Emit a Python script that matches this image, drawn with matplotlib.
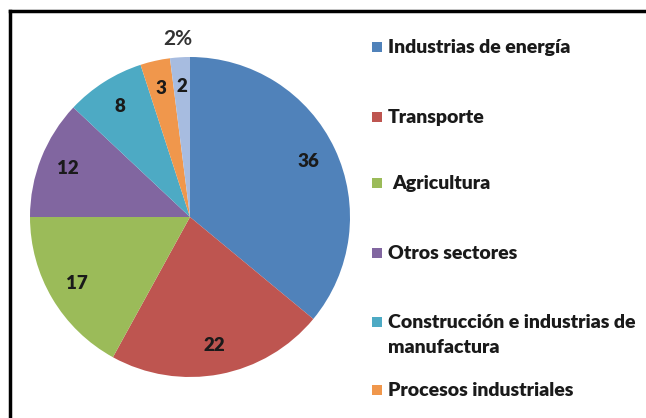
import matplotlib
matplotlib.use("Agg")
import matplotlib.pyplot as plt
from matplotlib.patches import Rectangle

categories = ["Industrias de energía", "Transporte", "Agricultura", "Otros sectores",
              "Construcción e industrias de\nmanufactura", "Procesos industriales", "Residuos"]
values = [36, 22, 17, 12, 8, 3, 2]
colors = ["#5082BA", "#BE5550", "#9BBB59", "#8166A0", "#4DAAC4", "#F0974C", "#A7BCE0"]
legend_y = [47, 117, 183, 253, 322, 390]  # pixel rows of visible legend entries

W, H = 646, 418
fig = plt.figure(figsize=(W / 100, H / 100), dpi=100)
plt.rcParams['font.family'] = ['Lato', 'DejaVu Sans']

# frame (top & left visible)
fig.add_artist(plt.Line2D([10 / W, 1.0], [1 - 11 / H, 1 - 11 / H], color="black", lw=2.5,
                          transform=fig.transFigure))
fig.add_artist(plt.Line2D([10 / W, 10 / W], [0, 1 - 11 / H], color="black", lw=2.5,
                          transform=fig.transFigure))

cx, cy, r = 190, 217, 160
ax = fig.add_axes([(cx - r) / W, (H - cy - r) / H, 2 * r / W, 2 * r / H])
wedges, texts = ax.pie(values, colors=colors, startangle=90, counterclock=False,
                       labels=[str(v) for v in values], labeldistance=0.82,
                       wedgeprops=dict(linewidth=0), radius=1.0)
for t in texts:
    t.set_ha("center")
    t.set_va("center")
    t.set_fontsize(13.5)
    t.set_fontweight("heavy")
    t.set_color("#1a1a1a")
ax.set_xlim(-1, 1)
ax.set_ylim(-1, 1)
ax.set_aspect("equal")
ax.axis("off")

fig.text(178 / W, 1 - 39 / H, "2%", ha="center", va="center", fontsize=15,
         fontweight="bold", color="#333333")

# legend
for i, y in enumerate(legend_y):
    fig.add_artist(Rectangle((372 / W, 1 - (y + 5) / H), 10 / W, 10 / H,
                             facecolor=colors[i], edgecolor="none", transform=fig.transFigure))
    dx = 4 if i == 2 else 0
    fig.text((388 + dx) / W, 1 - (y - 8) / H, categories[i], ha="left", va="top", fontsize=14,
             fontweight="heavy", color="#1a1a1a", linespacing=1.55)

fig.savefig("out.png", dpi=100)
